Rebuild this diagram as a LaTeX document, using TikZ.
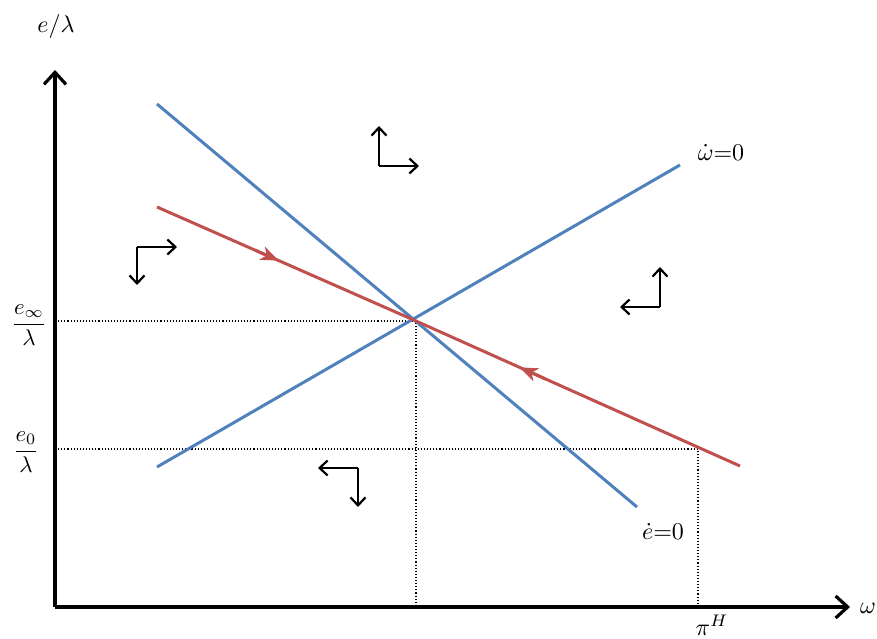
\documentclass[tikz,border=0pt]{standalone}
\usepackage{amsmath}
\usetikzlibrary{arrows.meta,calc}
\definecolor{lblue}{RGB}{79,129,189}
\definecolor{lred}{RGB}{192,80,77}
\begin{document}
\begin{tikzpicture}[x=1pt,y=-1pt,
  axis/.style={line width=3.2pt,-{Straight Barb[length=12pt,width=22pt,line width=3.2pt]}},
  guide/.style={line width=1.1pt,dotted},
  blueline/.style={line width=3pt,lblue},
  redline/.style={line width=3pt,lred},
  dirarrow/.style={line width=2pt,-{Straight Barb[length=8pt,width=15pt,line width=2.2pt]}},
  lbl/.style={scale=2.4,inner sep=0pt},
  redtip/.style={line width=3pt,lred,-{Stealth[length=18pt,width=14pt,inset=5pt]}}
]
\useasboundingbox (0,0) rectangle (877,639);
% axes
\coordinate (O) at (55,607);
\coordinate (ytop) at (55,70);
\coordinate (xend) at (850,607);
\draw[axis] (O) -- (ytop);
\draw[axis] (O) -- (xend);
% guide points
\coordinate (E) at (416,321);
\coordinate (P0) at (698,449);
\coordinate (Ey) at (55,321);
\coordinate (Ex) at (416,607);
\coordinate (P0y) at (55,449);
\coordinate (P0x) at (698,607);
\draw[guide] (Ey) -- (E) -- (Ex);
\draw[guide] (P0y) -- (P0) -- (P0x);
% lines
\coordinate (b1s) at (157,104);
\coordinate (b1e) at (637,507);
\coordinate (b2s) at (157,467);
\coordinate (b2e) at (680,165);
\coordinate (rs) at (157,207);
\coordinate (re) at (740,466);
\draw[blueline] (b1s) -- (b1e);
\draw[blueline] (b2s) -- (b2e);
\draw[redline] (rs) -- (E);
\draw[redline] (re) -- (E);
\draw[redtip] ($(rs)!0.38!(E)$) -- ($(rs)!0.47!(E)$);
\draw[redtip] ($(re)!0.60!(E)$) -- ($(re)!0.68!(E)$);
% direction arrows
\coordinate (c1) at (137,247);
\draw[dirarrow] (c1) -- (177,247);
\draw[dirarrow] (c1) -- (137,285);
\coordinate (c2) at (379,166);
\draw[dirarrow] (c2) -- (379,126);
\draw[dirarrow] (c2) -- (419,166);
\coordinate (c3) at (660,307);
\draw[dirarrow] (c3) -- (660,267);
\draw[dirarrow] (c3) -- (620,307);
\coordinate (c4) at (358,468);
\draw[dirarrow] (c4) -- (318,468);
\draw[dirarrow] (c4) -- (358,507);
% labels
\node[lbl] (ylab) at (56,27) {$e/\lambda$};
\node[lbl] (xlab) at (868,608) {$\omega$};
\node[lbl,scale=0.95] (einf) at (29,325) {$\dfrac{e_\infty}{\lambda}$};
\node[lbl,scale=0.95] (ezero) at (26,452) {$\dfrac{e_0}{\lambda}$};
\node[lbl] (pih) at (712,625) {$\pi^H$};
\node[lbl] (wdot) at (721,153) {$\dot{\omega}$=0};
\node[lbl] (edot) at (663,532) {$\dot{e}$=0};
\end{tikzpicture}
\end{document}
